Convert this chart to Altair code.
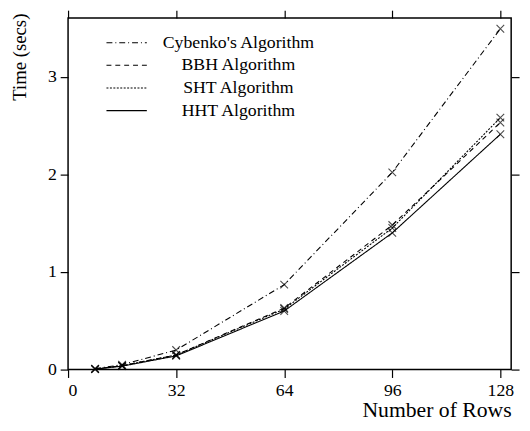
import altair as alt
import pandas as pd

rows = [8, 16, 32, 64, 96, 128]
series_names = ["Cybenko's Algorithm", "BBH Algorithm", "SHT Algorithm", "HHT Algorithm"]
cybenko = [0.01, 0.05, 0.20, 0.87, 2.02, 3.49]
bbh = [0.005, 0.04, 0.15, 0.63, 1.48, 2.53]
sht = [0.005, 0.04, 0.15, 0.62, 1.45, 2.58]
hht = [0.005, 0.035, 0.14, 0.60, 1.40, 2.41]
x_ticks = [0, 32, 64, 96, 128]
y_ticks = [0, 1, 2, 3]
dashes = [[6, 3, 1, 3], [5, 4], [2, 1.5], [1, 0]]

records = []
for name, vals in zip(series_names, [cybenko, bbh, sht, hht]):
    for r, v in zip(rows, vals):
        records.append({"series": name, "rows": r, "time": v})
df = pd.DataFrame(records)

FONT = "Liberation Serif"
xscale = alt.Scale(domain=[0, 131.2], nice=False, zero=False)
yscale = alt.Scale(domain=[0, 3.6], nice=False)

lines = alt.Chart(df).mark_line(color="black", strokeWidth=1.1).encode(
    x=alt.X("rows:Q", scale=xscale,
            axis=alt.Axis(orient="bottom", values=x_ticks, title="Number of Rows",
                          titleAnchor="end", titleFontSize=22,
                          titleBaseline="alphabetic", titleY=48,
                          titleFontWeight="normal")),
    y=alt.Y("time:Q", scale=yscale,
            axis=alt.Axis(orient="left", values=y_ticks, title="Time (secs)",
                          titleFontSize=19, titleFontWeight="normal",
                          titleAngle=270, titleAlign="right", titleBaseline="middle",
                          titleX=-49, titleY=-5)),
    strokeDash=alt.StrokeDash(
        "series:N",
        scale=alt.Scale(domain=series_names, range=dashes),
        legend=alt.Legend(
            title=None, orient="none", legendX=38, legendY=14,
            symbolType="stroke", symbolSize=1681, symbolStrokeWidth=1.1,
            symbolStrokeColor="black", clipHeight=22, rowPadding=1,
            labelFont=FONT, labelFontSize=18, labelColor="black",
            labelAlign="center", labelOffset=92, padding=0,
        ),
    ),
    detail="series:N",
)

points = alt.Chart(df).mark_point(
    shape="M-1,-1L1,1M-1,1L1,-1", size=60, filled=False, stroke="black", strokeWidth=1.1
).encode(
    x=alt.X("rows:Q", scale=xscale,
            axis=alt.Axis(orient="top", values=x_ticks, labels=False, title=None)),
    y=alt.Y("time:Q", scale=yscale,
            axis=alt.Axis(orient="right", values=y_ticks, labels=False, title=None)),
    detail="series:N",
)

chart = alt.layer(lines, points).properties(
    width=450, height=357,
    background="white",
    autosize=alt.AutoSizeParams(type="none"),
    padding={"left": 61, "top": 7, "right": 11, "bottom": 49},
).configure_view(stroke="black", strokeWidth=1.5).configure_axis(
    domain=False, grid=False, tickColor="black", tickSize=8, tickWidth=1.2,
    labelFont=FONT, labelFontSize=18, labelColor="black", labelPadding=4,
    titleFont=FONT, titleColor="black",
).configure_legend(
    labelFont=FONT, labelFontSize=18, labelColor="black",
)

chart.save("out.html", embed_options={"renderer": "svg", "actions": False})
